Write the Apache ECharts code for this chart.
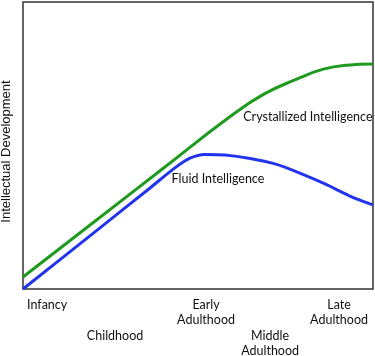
<!DOCTYPE html>
<html>
<head>
<meta charset="utf-8">
<script src="https://cdn.jsdelivr.net/npm/echarts@6/dist/echarts.min.js"></script>
<style>html,body{margin:0;padding:0;background:#fff}#c{width:375px;height:356px}</style>
</head>
<body>
<div id="c"></div>
<script>
// Life stages (x positions on a 0-100 lifespan scale)
const stageNames = ["Infancy", "Childhood", "Early\nAdulthood", "Middle\nAdulthood", "Late\nAdulthood"];
const stagePos = [6.9, 26.3, 52.3, 70.6, 90.3];
const stageRow = [0, 1, 0, 1, 0]; // 0 = upper row, 1 = lower row

// Crystallized intelligence
const crystX = [0, 20, 40, 59.1, 68.7, 78.2, 85.8, 92.5, 100];
const crystY = [4.2, 23.1, 42, 60, 67.8, 73.1, 76.6, 78.0, 78.4];

// Fluid intelligence
const fluidX = [0, 22, 36.3, 43.4, 47.7, 52, 57.7, 64.9, 72, 79.1, 86.3, 93.4, 100];
const fluidY = [0, 21.3, 35.2, 42.2, 45.6, 46.9, 46.7, 45.5, 43.6, 40.4, 36.6, 32.4, 29.3];

const seriesLabels = ["Crystallized Intelligence", "Fluid Intelligence"];
const labelPos = [[81.4, 59.9], [55.7, 38.3]];

const font = "Lato, 'Open Sans', sans-serif";
const zip = (xs, ys) => xs.map((x, i) => [x, ys[i]]);

const chart = echarts.init(document.getElementById('c'));
chart.setOption({
  animation: false,
  grid: { left: 23, right: 2, top: 2, bottom: 67, show: true, borderColor: '#333', borderWidth: 1.5, outerBoundsMode: 'none', containLabel: false },
  xAxis: {
    type: 'value', min: 0, max: 100,
    axisLine: { show: false }, axisTick: { show: false }, splitLine: { show: false },
    axisLabel: {
      customValues: stagePos,
      margin: 8,
      fontFamily: font, fontSize: 12.5, color: '#111', lineHeight: 15.5, align: 'center',
      formatter: function (v) {
        const i = stagePos.indexOf(v);
        if (i < 0) return '';
        return (stageRow[i] ? '\n\n' : '') + stageNames[i];
      }
    }
  },
  yAxis: {
    type: 'value', min: 0, max: 100,
    name: 'Intellectual Development', nameLocation: 'middle', nameGap: 10,
    nameTextStyle: { fontFamily: "'Liberation Sans', Arial, sans-serif", fontSize: 13, color: '#111', padding: [0, 12, 0, 0] },
    axisLine: { show: false }, axisTick: { show: false }, splitLine: { show: false }, axisLabel: { show: false }
  },
  series: [
    {
      type: 'line', data: zip(crystX, crystY), smooth: 0.5, showSymbol: false,
      lineStyle: { color: '#1f9a1f', width: 3 },
      markPoint: {
        symbol: 'circle', symbolSize: 0,
        data: [{ coord: labelPos[0] }],
        label: { show: true, formatter: seriesLabels[0], fontFamily: font, fontSize: 12.5, color: '#111', position: 'inside' }
      }
    },
    {
      type: 'line', data: zip(fluidX, fluidY), smooth: 0.3, showSymbol: false,
      lineStyle: { color: '#2233ee', width: 3 },
      markPoint: {
        symbol: 'circle', symbolSize: 0,
        data: [{ coord: labelPos[1] }],
        label: { show: true, formatter: seriesLabels[1], fontFamily: font, fontSize: 12.5, color: '#111', position: 'inside' }
      }
    }
  ]
});
</script>
</body>
</html>
